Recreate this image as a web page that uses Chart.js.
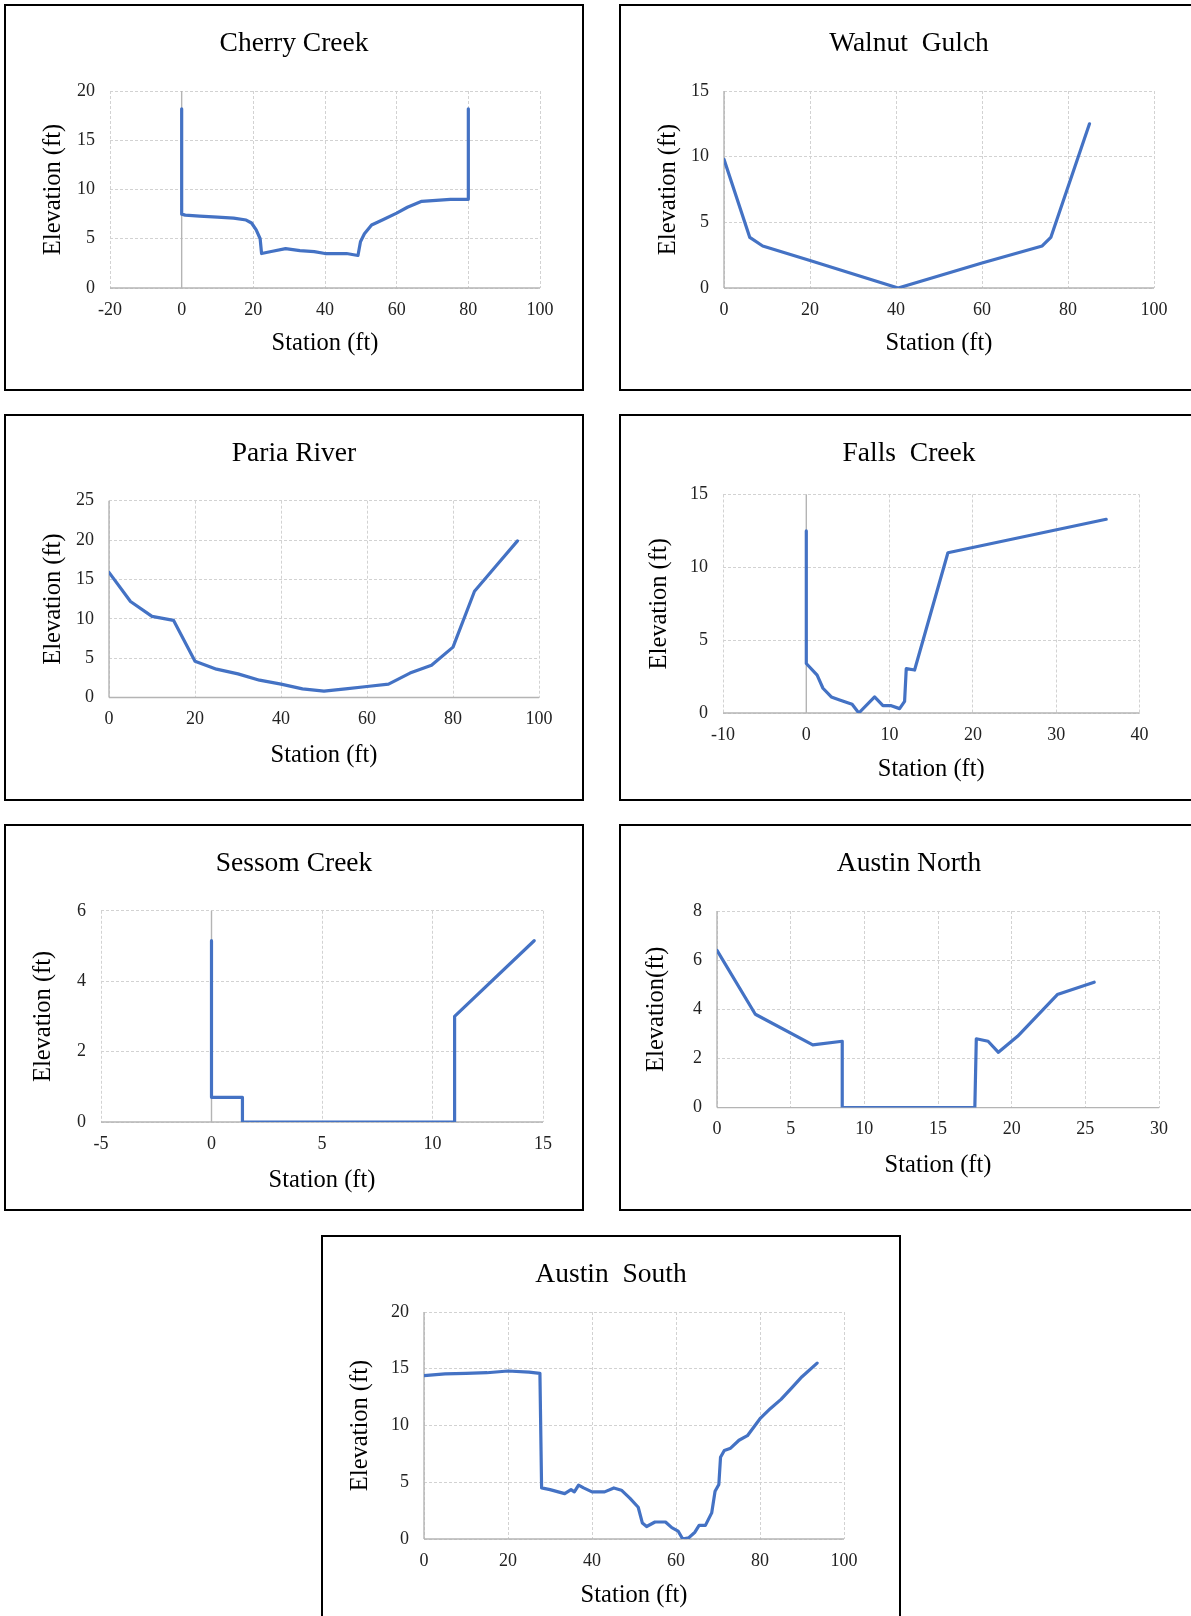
<!DOCTYPE html>
<html>
<head>
<meta charset="utf-8">
<title>Channel cross sections</title>
<script src="https://cdn.jsdelivr.net/npm/chart.js@4.4.1/dist/chart.umd.min.js"></script>
<style>
  html, body { margin: 0; padding: 0; background: #fff; }
  body { width: 1191px; height: 1616px; overflow: hidden; position: relative; }
  .panel { position: absolute; border: 2px solid #000; box-sizing: border-box; background: #fff; }
  .panel canvas { display: block; }
</style>
</head>
<body>
<script>
// ---- Surveyed cross sections: station (ft) vs. elevation (ft) ----
const cherryStation   = [0, 0, 1, 5, 10, 14.5, 18, 19.5, 20.8, 21.9, 22.3, 25, 29, 33, 37, 40, 46, 49.2, 49.9, 51, 53, 56, 60, 63, 67, 75, 80, 80];
const cherryElevation = [18.2, 7.5, 7.4, 7.3, 7.2, 7.1, 6.9, 6.6, 5.9, 5.0, 3.5, 3.7, 4.0, 3.8, 3.7, 3.5, 3.5, 3.3, 4.7, 5.5, 6.4, 6.9, 7.6, 8.2, 8.8, 9.0, 9.0, 18.2];

const walnutStation   = [0, 6, 9, 20, 40.5, 60, 74, 76, 85];
const walnutElevation = [9.8, 3.85, 3.2, 2.1, 0, 1.9, 3.2, 3.85, 12.5];

const pariaStation   = [0, 5, 10, 15, 20, 25, 30, 35, 40, 45, 50, 55, 60, 65, 70, 75, 80, 85, 90, 95];
const pariaElevation = [15.9, 12.2, 10.3, 9.8, 4.6, 3.6, 3.0, 2.2, 1.7, 1.1, 0.8, 1.1, 1.4, 1.7, 3.1, 4.1, 6.4, 13.5, 16.7, 19.9];

const fallsStation   = [0, 0, 1.3, 2, 3, 4, 5.5, 6.3, 8.2, 9.2, 10.2, 11.2, 11.8, 12, 13, 17, 36];
const fallsElevation = [12.5, 3.4, 2.6, 1.7, 1.1, 0.9, 0.6, 0, 1.1, 0.5, 0.5, 0.3, 0.8, 3.05, 2.95, 11.0, 13.3];

const sessomStation   = [0, 0, 1.4, 1.4, 11, 11, 14.6];
const sessomElevation = [5.15, 0.7, 0.7, 0, 0, 3.0, 5.15];

const northStation   = [0, 2.6, 6.5, 8.5, 8.5, 16.6, 17.5, 17.6, 18.4, 19.1, 20.4, 23.1, 25.6];
const northElevation = [6.4, 3.8, 2.55, 2.7, 0, 0, 0, 2.8, 2.7, 2.25, 2.9, 4.6, 5.1];

const southStation   = [0, 5, 10, 15, 20, 25, 27.6, 28, 30, 33.5, 35, 35.8, 36.8, 38, 40, 43, 45.2, 47, 49, 51, 52, 53, 55, 57.5, 59, 60.5, 61.6, 63, 64.5, 65.5, 67, 68.5, 69.3, 70.2, 70.6, 71.5, 73, 75, 77, 80, 82.5, 85, 87.5, 90, 93.6];
const southElevation = [14.4, 14.55, 14.6, 14.65, 14.8, 14.7, 14.6, 4.5, 4.35, 4.0, 4.35, 4.15, 4.75, 4.5, 4.15, 4.15, 4.5, 4.3, 3.6, 2.8, 1.4, 1.1, 1.5, 1.5, 1.0, 0.7, 0, 0.1, 0.6, 1.2, 1.2, 2.3, 4.2, 4.8, 7.2, 7.8, 8.0, 8.7, 9.1, 10.6, 11.5, 12.3, 13.3, 14.3, 15.5];

// ---- Axis ranges (min, max, step) ----
const cherryX = [-20, 100, 20], cherryY = [0, 20, 5];
const walnutX = [0, 100, 20],   walnutY = [0, 15, 5];
const pariaX  = [0, 100, 20],   pariaY  = [0, 25, 5];
const fallsX  = [-10, 40, 10],  fallsY  = [0, 15, 5];
const sessomX = [-5, 15, 5],    sessomY = [0, 6, 2];
const northX  = [0, 30, 5],     northY  = [0, 8, 2];
const southX  = [0, 100, 20],   southY  = [0, 20, 5];

// ---- Page layout: panel frame, plot area, and text anchor positions ----
const panels = [
  { title: 'Cherry Creek', yTitle: 'Elevation (ft)', xs: cherryStation, ys: cherryElevation, xr: cherryX, yr: cherryY,
    box: [4, 4, 580, 387], plot: [110, 91, 540, 288], titleY: 43.5, yTitleX: 53.6, xTitleY: 344 },
  { title: 'Walnut  Gulch', yTitle: 'Elevation (ft)', xs: walnutStation, ys: walnutElevation, xr: walnutX, yr: walnutY,
    box: [619, 4, 580, 387], plot: [724, 91, 1154, 288], titleY: 43.5, yTitleX: 668.7, xTitleY: 344 },
  { title: 'Paria River', yTitle: 'Elevation (ft)', xs: pariaStation, ys: pariaElevation, xr: pariaX, yr: pariaY,
    box: [4, 414, 580, 387], plot: [109, 500.7, 539, 697.5], titleY: 453.6, yTitleX: 53.6, xTitleY: 755.2 },
  { title: 'Falls  Creek', yTitle: 'Elevation (ft)', xs: fallsStation, ys: fallsElevation, xr: fallsX, yr: fallsY,
    box: [619, 414, 580, 387], plot: [723, 494.5, 1139.5, 713], titleY: 453.6, yTitleX: 659.4, xTitleY: 769.6 },
  { title: 'Sessom Creek', yTitle: 'Elevation (ft)', xs: sessomStation, ys: sessomElevation, xr: sessomX, yr: sessomY,
    box: [4, 824, 580, 387], plot: [101, 910.8, 543, 1122], titleY: 863.7, yTitleX: 43.3, xTitleY: 1180.7 },
  { title: 'Austin North', yTitle: 'Elevation(ft)', xs: northStation, ys: northElevation, xr: northX, yr: northY,
    box: [619, 824, 580, 387], plot: [717, 911, 1159, 1107.6], titleY: 863.7, yTitleX: 656.3, xTitleY: 1165.2 },
  { title: 'Austin  South', yTitle: 'Elevation (ft)', xs: southStation, ys: southElevation, xr: southX, yr: southY,
    box: [321, 1235, 580, 387], plot: [424, 1312, 844, 1539], titleY: 1274.8, yTitleX: 360.6, xTitleY: 1595.9 }
];

const FONT = "'Liberation Serif', 'Times New Roman', serif";
const TITLE_SIZE = 27.5, AXIS_SIZE = 24.5, TICK_SIZE = 18;
const LINE_BLUE = '#4472C4';
const GRID_GREY = '#d2d2d2';
const AXIS_GREY = '#b4b4b4';
const lineH = s => s * 1.2;

// Solid axis lines through zero (Excel-style), drawn beneath the profile line
const zeroAxes = {
  id: 'zeroAxes',
  beforeDatasetsDraw(chart) {
    const { ctx, chartArea: a, scales: { x, y } } = chart;
    ctx.save();
    ctx.strokeStyle = AXIS_GREY;
    ctx.lineWidth = 1.4;
    ctx.setLineDash([]);
    const px = x.getPixelForValue(0);
    if (px >= a.left - 0.5 && px <= a.right + 0.5) {
      ctx.beginPath(); ctx.moveTo(px, a.top); ctx.lineTo(px, a.bottom); ctx.stroke();
    }
    const py = y.getPixelForValue(0);
    if (py >= a.top - 0.5 && py <= a.bottom + 0.5) {
      ctx.beginPath(); ctx.moveTo(a.left, py); ctx.lineTo(a.right, py); ctx.stroke();
    }
    ctx.restore();
  }
};

panels.forEach(p => {
  const [l, t, w, h] = p.box;
  const cl = l + 2, ct = t + 2, cw = w - 4, ch = h - 4;
  const [pl, pt, pr, pb] = p.plot;

  const div = document.createElement('div');
  div.className = 'panel';
  Object.assign(div.style, { left: l + 'px', top: t + 'px', width: w + 'px', height: h + 'px' });
  const canvas = document.createElement('canvas');
  canvas.width = cw; canvas.height = ch;
  canvas.style.width = cw + 'px'; canvas.style.height = ch + 'px';
  div.appendChild(canvas);
  document.body.appendChild(div);

  const titlePadTop = p.titleY - ct - lineH(TITLE_SIZE) / 2;
  const titlePadBottom = (pt - ct) - titlePadTop - lineH(TITLE_SIZE);
  const yTitlePad = p.yTitleX - cl - lineH(AXIS_SIZE) / 2;
  const xTitlePad = (ct + ch) - p.xTitleY - lineH(AXIS_SIZE) / 2;
  const rightGap = (cl + cw) - pr;

  const tickFont = { family: FONT, size: TICK_SIZE };
  const axisFont = { family: FONT, size: AXIS_SIZE };

  new Chart(canvas, {
    type: 'scatter',
    data: {
      datasets: [{
        data: p.xs.map((sx, i) => ({ x: sx, y: p.ys[i] })),
        showLine: true,
        borderColor: LINE_BLUE,
        borderWidth: 3.2,
        borderJoinStyle: 'round',
        borderCapStyle: 'round',
        tension: 0,
        pointRadius: 0,
        pointHoverRadius: 0
      }]
    },
    options: {
      responsive: false,
      maintainAspectRatio: false,
      animation: false,
      devicePixelRatio: 1,
      events: [],
      layout: { padding: 0 },
      plugins: {
        legend: { display: false },
        tooltip: { enabled: false },
        title: {
          display: true,
          text: p.title,
          color: '#000',
          font: { family: FONT, size: TITLE_SIZE, weight: 'normal' },
          padding: { top: titlePadTop, bottom: titlePadBottom }
        }
      },
      scales: {
        x: {
          type: 'linear',
          min: p.xr[0], max: p.xr[1],
          afterFit: s => { s.height = (ct + ch) - pb; },
          ticks: { stepSize: p.xr[2], autoSkip: false, maxRotation: 0, padding: 11,
                   font: tickFont, color: '#222', callback: v => String(v) },
          grid: { color: GRID_GREY, lineWidth: 1, drawTicks: false },
          border: { display: false, dash: [3, 2] },
          title: { display: true, text: 'Station (ft)', color: '#000', font: axisFont,
                   padding: { top: 0, bottom: xTitlePad } }
        },
        y: {
          type: 'linear',
          min: p.yr[0], max: p.yr[1],
          afterFit: s => { s.width = pl - cl; },
          ticks: { stepSize: p.yr[2], autoSkip: false, padding: 15,
                   font: tickFont, color: '#222', callback: v => String(v) },
          grid: { color: GRID_GREY, lineWidth: 1, drawTicks: false },
          border: { display: false, dash: [3, 2] },
          title: { display: true, text: p.yTitle, color: '#000', font: axisFont,
                   padding: { top: yTitlePad, bottom: 0 } }
        },
        // empty right-hand margin so the chart title stays centred on the frame
        margin: {
          type: 'linear',
          position: 'right',
          min: 0, max: 1,
          afterFit: s => { s.width = rightGap; },
          ticks: { display: false },
          grid: { display: false, drawOnChartArea: false, drawTicks: false },
          border: { display: false },
          title: { display: false }
        }
      }
    },
    plugins: [zeroAxes]
  });
});
</script>
</body>
</html>
